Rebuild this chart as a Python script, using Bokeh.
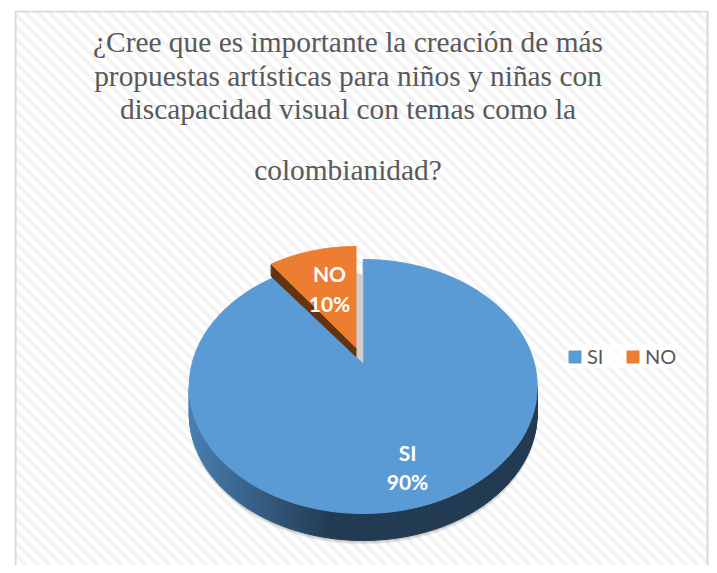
import numpy as np
from bokeh.plotting import figure
from bokeh.models import Range1d, Legend, LegendItem, ColumnDataSource
from bokeh.core.properties import value
from bokeh.embed import file_html
from bokeh.resources import INLINE

# --- data
categories = ["SI", "NO"]
percentages = [90, 10]
colors = ["#5b9bd5", "#ed7d31"]
title_lines = [
    "¿Cree que es importante la creación de más",
    "propuestas artísticas para niños y niñas con",
    "discapacidad visual con temas como la",
    "colombianidad?",
]

# --- layout constants (the plot's data space is the picture's pixel space)
W, H = 709, 565
X0, X1, Y0, Y1 = 14, W, 10, H
RX, RY, DEPTH = 174, 127, 27
SI_APEX = (362.7, 362.7)
SI_CY = 386
NO_APEX = (355.5, 347)
NO_RX, NO_RY, NO_CY, NO_DEPTH = 165, 124, 370, 9
SQUEEZE = 0.86  # perspective shortening of the 3-D slice angle

p = figure(width=W, height=H, output_backend="svg", toolbar_location=None,
           x_range=Range1d(X0, X1), y_range=Range1d(Y1, Y0),
           min_border_left=X0, min_border_right=0, min_border_top=Y0, min_border_bottom=0,
           x_axis_type=None, y_axis_type=None, background_fill_color="#ffffff",
           border_fill_color="#ffffff", outline_line_color=None)
p.grid.visible = False

# --- striped background
offs = np.arange(X0 - (Y1 - Y0) - 12, X1 + 12, 12.0)
p.multi_line([[o, o + (Y1 - Y0)] for o in offs], [[Y0, Y1] for _ in offs],
             line_color="#f3f3f3", line_width=4)

# --- chart frame: top, left and right edges, the bottom runs off the picture
p.line([X0 + 1, X0 + 1, X1 - 2, X1 - 2], [Y1, Y0 + 1, Y0 + 1, Y1],
       line_color="#d9d9d9", line_width=2)

# --- geometry from the shares
no_sweep = np.deg2rad(360 * percentages[1] / 100 * SQUEEZE)
si_t = np.linspace(0, 2 * np.pi - no_sweep, 240)
si_x = np.r_[SI_APEX[0], SI_APEX[0] + RX * np.sin(si_t)]
si_y = np.r_[SI_APEX[1], SI_CY - RY * np.cos(si_t)]
no_t = np.linspace(-no_sweep, 0, 40)
no_x = np.r_[NO_APEX[0], NO_APEX[0] + NO_RX * np.sin(no_t)]
no_y = np.r_[NO_APEX[1], NO_CY - NO_RY * np.cos(no_t)]

# soft shadow under the disc
low_t = np.linspace(np.pi / 2, 3 * np.pi / 2, 120)
lx = SI_APEX[0] + RX * np.sin(low_t)
ly = SI_CY - RY * np.cos(low_t) + DEPTH
for k in range(1, 5):
    p.patch(np.r_[lx, lx[::-1]], np.r_[ly + k, ly[::-1] - 20], fill_color="#000000",
            fill_alpha=0.06, line_color=None)

# side wall of SI, shaded along the rim
edges = np.linspace(np.pi / 2, 3 * np.pi / 2, 121)
wx, wy, wc = [], [], []
light = np.array([0x4a, 0x80, 0xb2])
dark = np.array([0x22, 0x3b, 0x52])
for a, b in zip(edges[:-1], edges[1:]):
    xa, xb = SI_APEX[0] + RX * np.sin(a), SI_APEX[0] + RX * np.sin(b)
    ya, yb = SI_CY - RY * np.cos(a), SI_CY - RY * np.cos(b)
    wx.append([xa, xb, xb, xa])
    wy.append([ya, yb, yb + DEPTH, ya + DEPTH])
    f = np.clip((xa - (SI_APEX[0] - RX)) / (333 - (SI_APEX[0] - RX)), 0, 1)
    c = (light * (1 - f) + dark * f).astype(int)
    wc.append("#%02x%02x%02x" % tuple(c))
p.patches(wx, wy, fill_color=wc, line_color=wc, line_width=1)

si = p.patch(si_x, si_y, fill_color=colors[0], line_color=colors[0], line_width=1)

# grey inner cut next to the exploded slice
p.patch([NO_APEX[0], SI_APEX[0], SI_APEX[0], NO_APEX[0]],
        [NO_APEX[1] + NO_DEPTH, SI_APEX[1], SI_APEX[1] - 88, NO_APEX[1] - 75],
        fill_color="#cfcfcf", line_color=None)

# brown cut face of NO
rim_x, rim_y = no_x[1], no_y[1]
p.patch([NO_APEX[0], rim_x, rim_x, NO_APEX[0]],
        [NO_APEX[1], rim_y, rim_y + NO_DEPTH + 3, NO_APEX[1] + NO_DEPTH],
        fill_color="#63340f", line_color="#63340f")
no = p.patch(no_x, no_y, fill_color=colors[1], line_color=colors[1], line_width=1)

# --- data labels
lab = ColumnDataSource(dict(
    x=[407, 407, 329, 329],
    y=[452, 481, 273, 303],
    t=[categories[0], f"{percentages[0]}%", categories[1], f"{percentages[1]}%"],
))
p.text("x", "y", text="t", source=lab, text_color="#ffffff", text_font=value("Lato"),
       text_font_size="21px", text_font_style="bold", text_align="center", text_baseline="middle")

# --- title
p.text([347.5, 347.5, 347.5, 347.5], [41, 75, 108, 169], text=title_lines, text_color="#595959",
       text_font=value("Liberation Serif"), text_font_size="29.4px",
       text_align="center", text_baseline="middle")

# --- legend
legend = Legend(items=[LegendItem(label=categories[0], renderers=[si]),
                       LegendItem(label=categories[1], renderers=[no])],
                orientation="horizontal", location=(553, 197), glyph_width=15, glyph_height=15,
                label_text_font="Lato", label_text_font_size="20px", label_text_color="#595959",
                label_standoff=5, spacing=18, margin=0, padding=15,
                background_fill_color="#ffffff", background_fill_alpha=0.75,
                border_line_color=None, label_height=15)
p.add_layout(legend)

open("out.html", "w").write(file_html(p, INLINE))
